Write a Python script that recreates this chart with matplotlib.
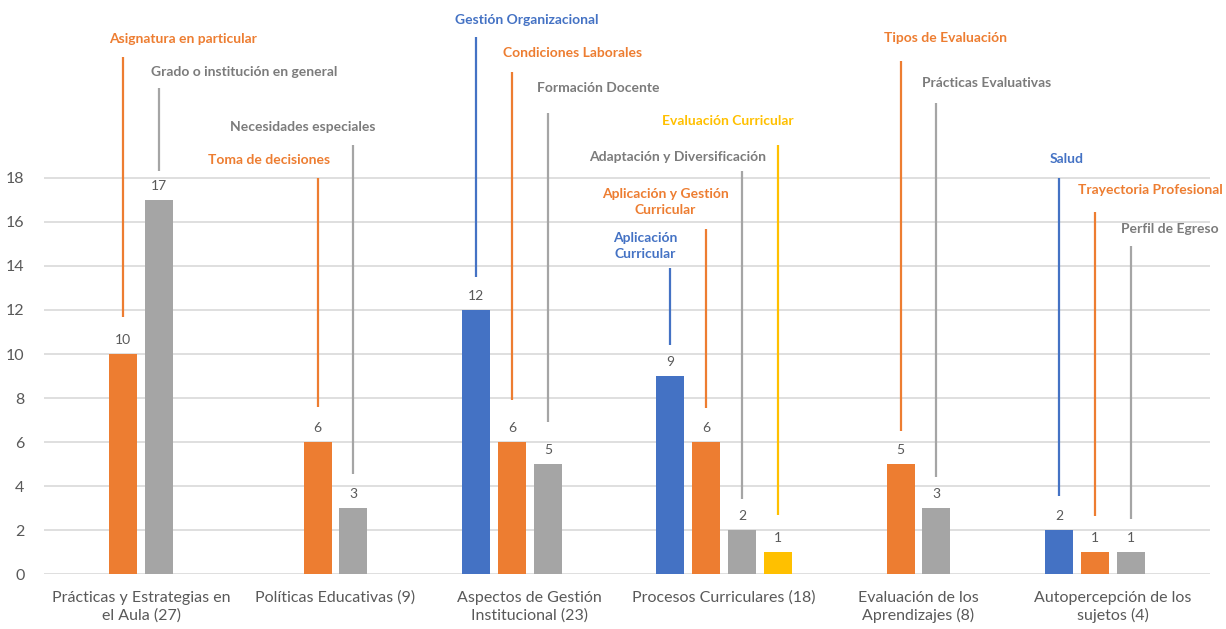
import numpy as np
import matplotlib
matplotlib.use('Agg')
import matplotlib.pyplot as plt

plt.rcParams['font.family'] = ['Lato', 'DejaVu Sans']

categories = ["Prácticas y Estrategias en\nel Aula (27)", "Políticas Educativas (9)",
              "Aspectos de Gestión\nInstitucional (23)", "Procesos Curriculares (18)",
              "Evaluación de los\nAprendizajes (8)", "Autopercepción de los\nsujetos (4)"]

blue = [np.nan, np.nan, 12, 9, np.nan, 2]
orange = [10, 6, 6, 6, 5, 1]
gray = [17, 3, 5, 2, 3, 1]
yellow = [np.nan, np.nan, np.nan, 1, np.nan, np.nan]

series = [blue, orange, gray, yellow]
bar_colors = ["#4472C4", "#ED7D31", "#A5A5A5", "#FFC000"]
text_colors = ["#4472C4", "#ED7D31", "#7B7B7B", "#FFC000"]

# callout: label, series index, category index, line top, line bottom, text dx, text y
callouts = [
    ("Asignatura en particular", 1, 0, 23.5, 11.7, 0.31, 24.3),
    ("Grado o institución en general", 2, 0, 22.1, 18.3, 0.44, 22.8),
    ("Toma de decisiones", 1, 1, 18.0, 7.6, -0.25, 18.8),
    ("Necesidades especiales", 2, 1, 19.5, 4.55, -0.26, 20.3),
    ("Gestión Organizacional", 0, 2, 24.4, 13.5, 0.26, 25.2),
    ("Condiciones Laborales", 1, 2, 22.8, 7.9, 0.31, 23.7),
    ("Formación Docente", 2, 2, 20.95, 6.9, 0.26, 22.1),
    ("Evaluación Curricular", 3, 3, 19.5, 2.7, -0.26, 20.6),
    ("Adaptación y Diversificación", 2, 3, 18.3, 3.4, -0.33, 18.95),
    ("Aplicación y Gestión\nCurricular", 1, 3, 15.7, 7.55, -0.21, 16.9),
    ("Aplicación\nCurricular", 0, 3, 13.9, 10.4, -0.13, 14.9),
    ("Tipos de Evaluación", 1, 4, 23.3, 6.5, 0.23, 24.35),
    ("Prácticas Evaluativas", 2, 4, 21.4, 4.4, 0.26, 22.3),
    ("Salud", 0, 5, 18.0, 3.55, 0.04, 18.85),
    ("Trayectoria Profesional", 1, 5, 16.45, 2.65, 0.285, 17.45),
    ("Perfil de Egreso", 2, 5, 14.9, 2.5, 0.20, 15.7),
]

slot = 0.185
width = 0.144
x = np.arange(len(categories))

fig = plt.figure(figsize=(12.26, 6.29), dpi=100)
ax = fig.add_axes([44 / 1226, 55 / 629, 1166 / 1226, 574 / 629])

for k, vals in enumerate(series):
    pos = x + (k - 1.5) * slot
    ax.bar(pos, vals, width, color=bar_colors[k], zorder=3)
    for px, v in zip(pos, vals):
        if not np.isnan(v):
            ax.annotate(f"{v:g}", (px, v), xytext=(0, 6), textcoords="offset points",
                        ha="center", va="bottom", fontsize=10, color="#595959")

for label, k, c, top, bottom, dx, ty in callouts:
    lx = c + (k - 1.5) * slot
    ax.plot([lx, lx], [bottom, top], color=bar_colors[k], lw=1.6, zorder=4,
            solid_capstyle="butt")
    ax.text(lx + dx, ty, label, ha="center", va="center", fontsize=10,
            fontweight="bold", color=text_colors[k], linespacing=1.45, clip_on=False)

ax.set_xlim(-0.5, len(categories) - 0.5)
ax.set_ylim(0, 574 / 22)
ax.set_yticks(range(0, 19, 2))
ax.set_xticks(x)
ax.set_xticklabels(categories, fontsize=11.5, color="#595959", linespacing=1.3)
ax.tick_params(axis="y", labelsize=11.5, labelcolor="#595959", length=0, pad=14)
ax.tick_params(axis="x", length=0, pad=12)
ax.grid(axis="y", color="#D9D9D9", lw=1.2, zorder=0)
for s in ax.spines.values():
    s.set_visible(False)

fig.savefig("out.png", dpi=100)
